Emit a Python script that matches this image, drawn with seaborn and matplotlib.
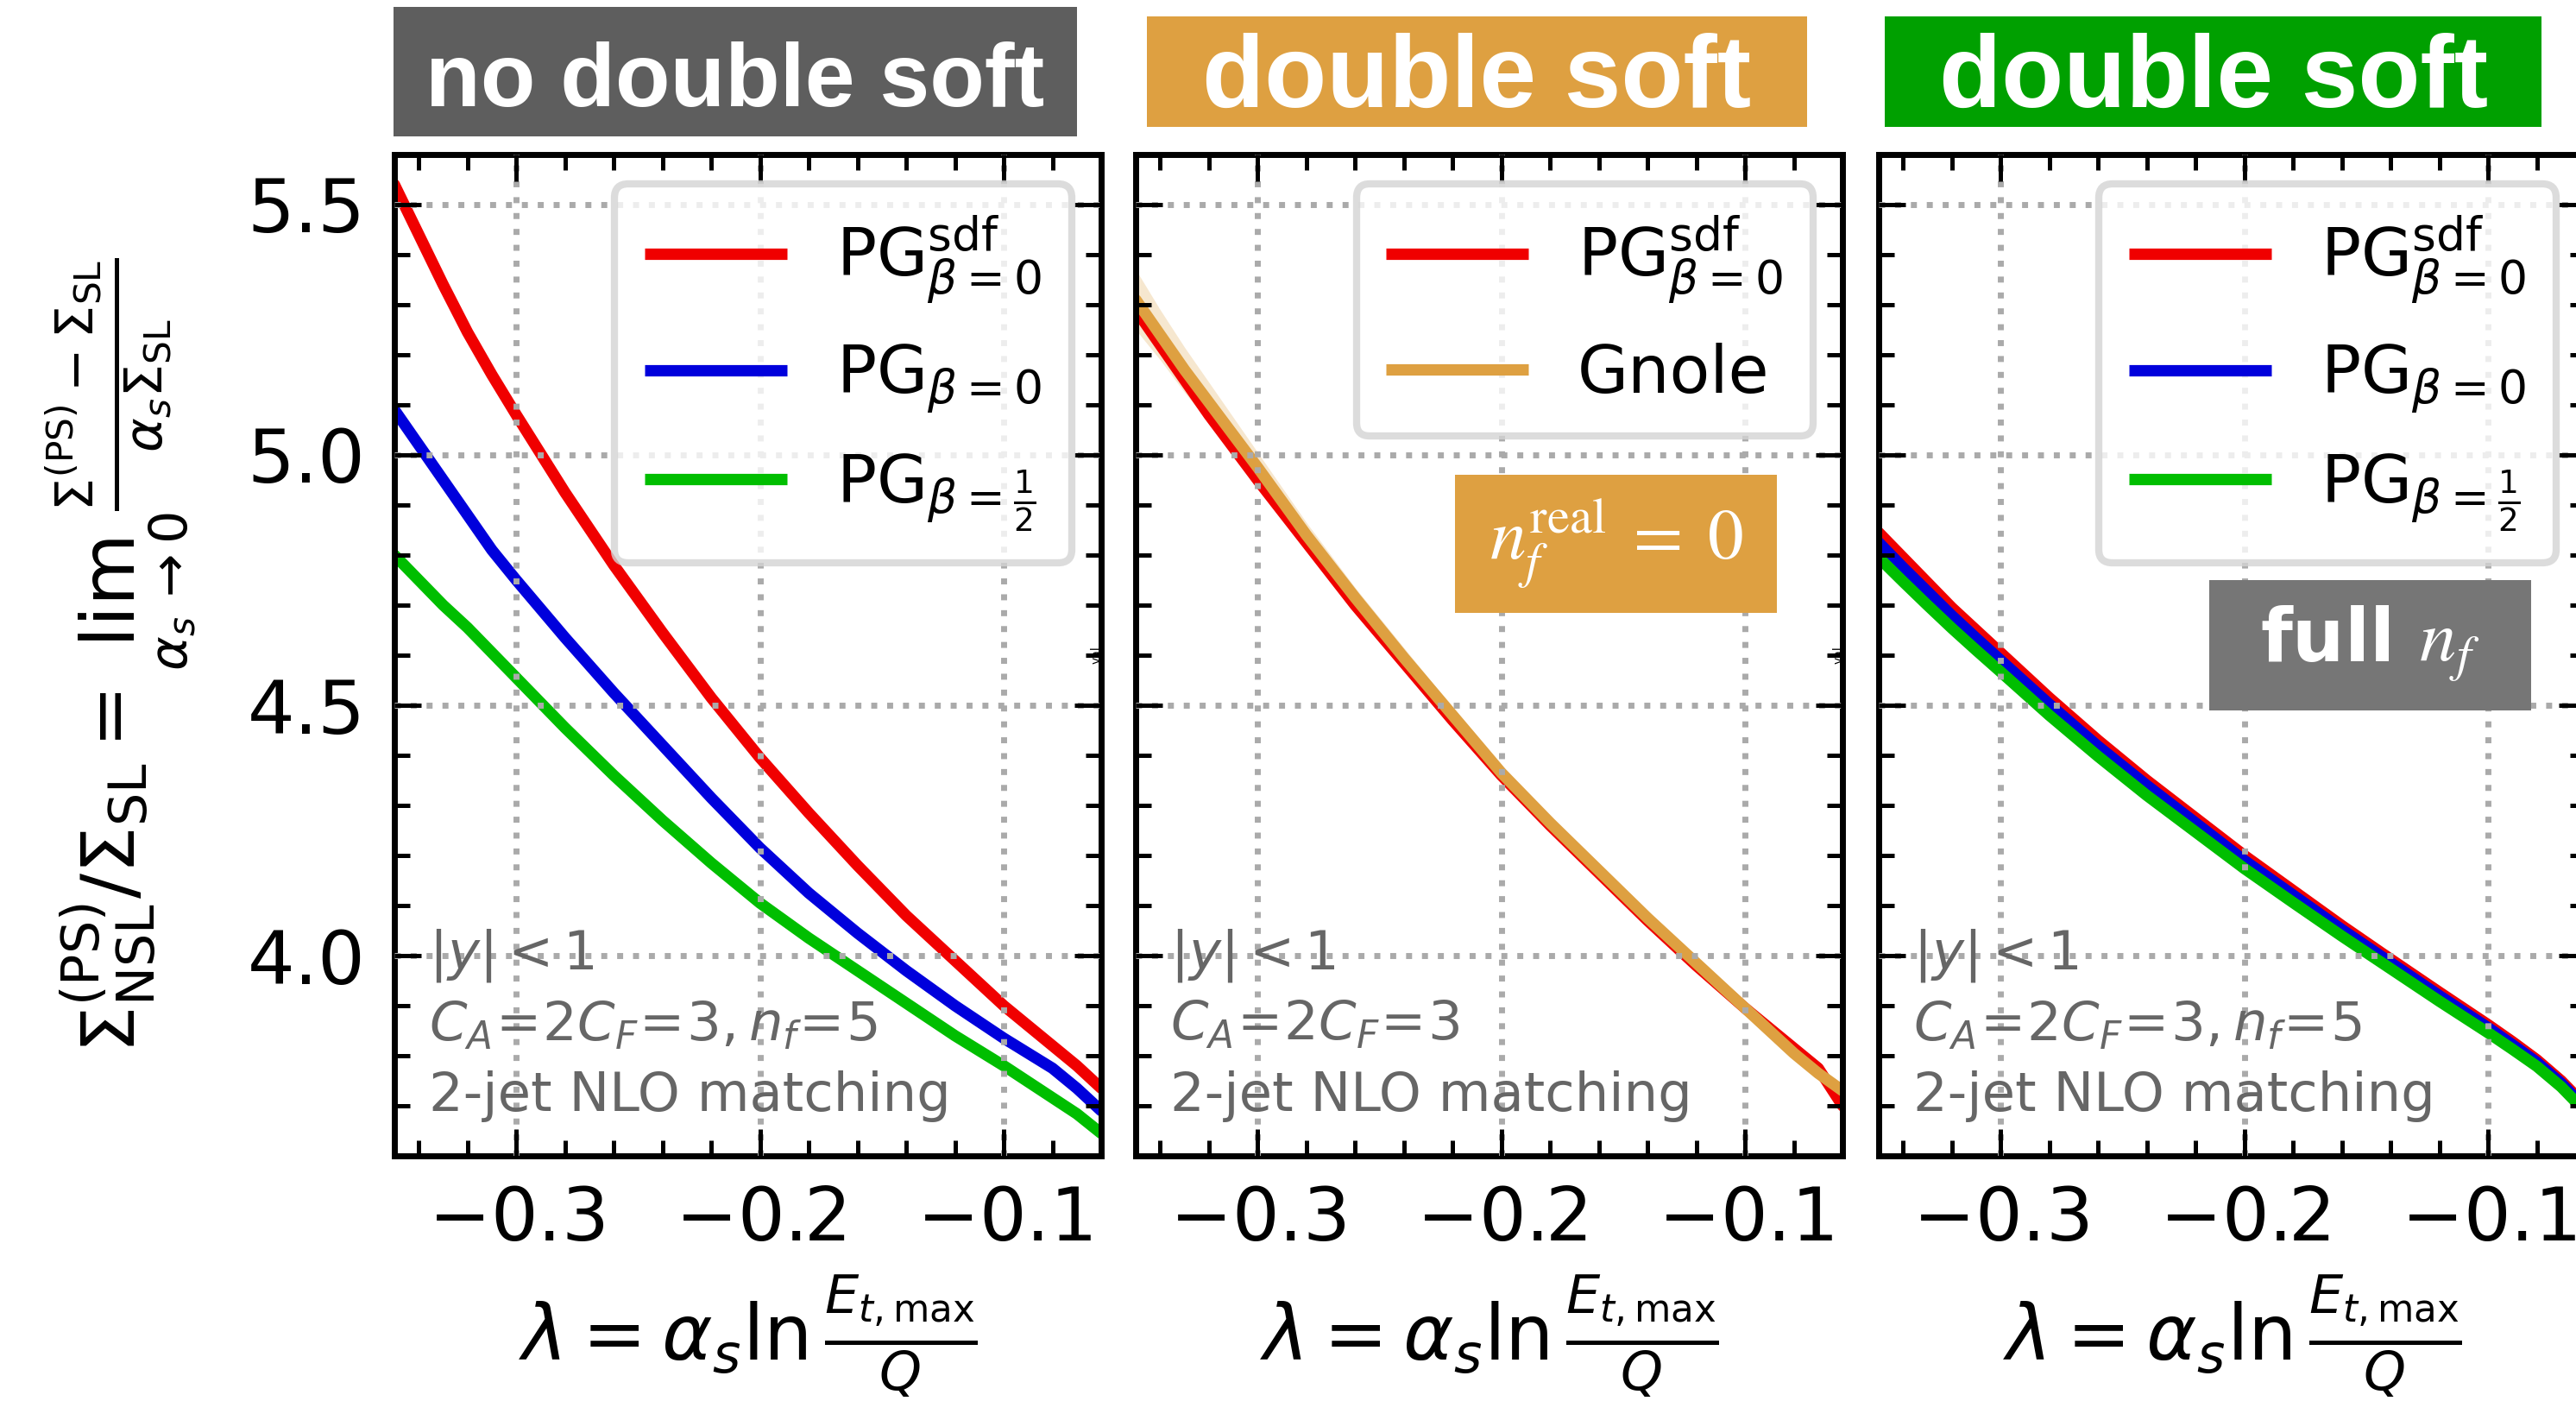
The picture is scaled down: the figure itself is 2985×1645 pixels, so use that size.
import numpy as np
import pandas as pd
import matplotlib
matplotlib.use("Agg")
import matplotlib.pyplot as plt
import seaborn as sns
from matplotlib.patches import Rectangle
from matplotlib.lines import Line2D
from matplotlib.ticker import MultipleLocator

# ---------------- data ----------------
lam = [-0.35, -0.34, -0.33, -0.32, -0.31, -0.30, -0.28, -0.26, -0.24, -0.22,
       -0.20, -0.18, -0.16, -0.14, -0.12, -0.10, -0.09, -0.08, -0.07, -0.06]

p1_sdf = [5.54, 5.44, 5.34, 5.245, 5.16, 5.08, 4.925, 4.78, 4.645, 4.515,
          4.395, 4.285, 4.18, 4.08, 3.99, 3.90, 3.86, 3.82, 3.78, 3.735]
p1_b0 = [5.09, 5.02, 4.95, 4.88, 4.81, 4.75, 4.635, 4.525, 4.42, 4.315,
         4.215, 4.125, 4.045, 3.97, 3.90, 3.835, 3.805, 3.775, 3.735, 3.69]
p1_bh = [4.80, 4.75, 4.70, 4.655, 4.605, 4.555, 4.455, 4.36, 4.27, 4.185,
         4.105, 4.035, 3.97, 3.905, 3.84, 3.78, 3.748, 3.716, 3.684, 3.645]

p2_sdf = [5.29, 5.22, 5.15, 5.08, 5.015, 4.95, 4.825, 4.70, 4.585, 4.47,
          4.36, 4.26, 4.165, 4.07, 3.98, 3.895, 3.855, 3.815, 3.775, 3.70]
p2_gnole = [5.31, 5.24, 5.17, 5.105, 5.04, 4.975, 4.84, 4.715, 4.595, 4.48,
            4.365, 4.265, 4.17, 4.075, 3.985, 3.895, 3.85, 3.805, 3.765, 3.73]
p2_gnole_err = [0.06, 0.05, 0.045, 0.04, 0.035, 0.03, 0.025, 0.02, 0.02, 0.015,
                0.015, 0.012, 0.012, 0.012, 0.01, 0.01, 0.01, 0.01, 0.01, 0.01]

p3_sdf = [4.845, 4.795, 4.745, 4.695, 4.65, 4.605, 4.515, 4.43, 4.35, 4.275,
          4.20, 4.13, 4.06, 3.993, 3.927, 3.862, 3.828, 3.792, 3.75, 3.70]
p3_b0 = [4.825, 4.775, 4.727, 4.679, 4.634, 4.59, 4.502, 4.418, 4.34, 4.265,
         4.19, 4.121, 4.052, 3.986, 3.92, 3.856, 3.822, 3.787, 3.745, 3.695]
p3_bh = [4.795, 4.747, 4.70, 4.654, 4.61, 4.567, 4.48, 4.398, 4.32, 4.247,
         4.174, 4.106, 4.039, 3.974, 3.909, 3.846, 3.813, 3.779, 3.738, 3.688]

panel_titles = ["no double soft", "double soft", "double soft"]
lab_sdf = r"$\mathrm{PG}^{\mathrm{sdf}}_{\beta=0}$"
lab_b0 = r"$\mathrm{PG}_{\beta=0}$"
lab_bh = r"$\mathrm{PG}_{\beta=\frac{1}{2}}$"
lab_gnole = "Gnole"
ann_lines_a = [r"$|y|<1$", r"$C_A\!=\!2C_F\!=\!3, n_f\!=\!5$", "2-jet NLO matching"]
ann_lines_b = [r"$|y|<1$", r"$C_A\!=\!2C_F\!=\!3$", "2-jet NLO matching"]
xticks = [-0.3, -0.2, -0.1]
yticks = [4.0, 4.5, 5.0, 5.5]

RED = "#f00000"
BLUE = "#0000dc"
GREEN = "#00be00"
ORANGE = "#dea041"
GRAYBOX = "#5e5e5e"
GREENBOX = "#00a000"
FULLBOX = "#767676"

# ---------------- style ----------------
sns.set_style("ticks")
plt.rcParams["font.family"] = ["DejaVu Sans"]
plt.rcParams["mathtext.fontset"] = "dejavusans"
plt.rcParams["text.color"] = "black"
plt.rcParams["axes.labelcolor"] = "black"
plt.rcParams["xtick.color"] = "black"
plt.rcParams["ytick.color"] = "black"
plt.rcParams["xtick.labelcolor"] = "black"
plt.rcParams["ytick.labelcolor"] = "black"
plt.rcParams["legend.labelcolor"] = "black"

fig = plt.figure(figsize=(29.85, 16.45), dpi=100)
lefts = [0.1531, 0.4409, 0.7293]
axes = [fig.add_axes([l, 0.1860, 0.2744, 0.7052]) for l in lefts]

def style_axis(ax, show_ylabels):
    ax.set_xlim(-0.35, -0.06)
    ax.set_ylim(3.6, 5.6)
    ax.set_xticks(xticks)
    ax.set_yticks(yticks)
    ax.xaxis.set_minor_locator(MultipleLocator(0.02))
    ax.yaxis.set_minor_locator(MultipleLocator(0.1))
    ax.tick_params(which="both", direction="in", top=True, right=True,
                   labelsize=62, pad=24, color="black", labelcolor="black")
    ax.tick_params(which="major", length=22, width=3.6)
    ax.tick_params(which="minor", length=13, width=3.6)
    ax.set_xticklabels([f"$-${abs(t):.1f}" for t in xticks])
    if show_ylabels:
        ax.set_yticklabels([f"{t:.1f}" for t in yticks])
    else:
        ax.set_yticklabels([])
    for s in ax.spines.values():
        s.set_linewidth(5)
        s.set_color("black")
        s.set_visible(True)
    ax.grid(True, which="major", ls=":", lw=5, color="#aaaaaa")
    ax.set_axisbelow(False)
    ax.set_xlabel(r"$\lambda = \alpha_s \ln\frac{E_{t,\max}}{Q}$", fontsize=64,
                  labelpad=14, color="black")

def add_ann(ax, lines):
    ys = [0.187, 0.1155, 0.0448]
    for t, y in zip(lines, ys):
        ax.text(0.049, y, t, transform=ax.transAxes, fontsize=45, color="#666666",
                ha="left", va="baseline", zorder=6)

LW = 9.5

# panel 1
ax = axes[0]
df1 = pd.DataFrame({"lam": lam * 3, "val": p1_sdf + p1_b0 + p1_bh,
                    "series": [lab_sdf] * len(lam) + [lab_b0] * len(lam) + [lab_bh] * len(lam)})
sns.lineplot(data=df1, x="lam", y="val", hue="series", hue_order=[lab_sdf, lab_b0, lab_bh],
             palette={lab_sdf: RED, lab_b0: BLUE, lab_bh: GREEN}, linewidth=LW,
             errorbar=None, legend=False, ax=ax, sort=True)
h1 = [Line2D([], [], color=c, lw=LW, solid_capstyle="butt") for c in (RED, BLUE, GREEN)]
l1 = [lab_sdf, lab_b0, lab_bh]

# panel 2
ax = axes[1]
lo = np.array(p2_gnole) - np.array(p2_gnole_err)
hi = np.array(p2_gnole) + np.array(p2_gnole_err)
ax.fill_between(lam, lo, hi, color=ORANGE, alpha=0.25, lw=0, zorder=1.5)
df2 = pd.DataFrame({"lam": lam * 2, "val": p2_sdf + p2_gnole,
                    "series": [lab_sdf] * len(lam) + [lab_gnole] * len(lam)})
sns.lineplot(data=df2, x="lam", y="val", hue="series", hue_order=[lab_sdf, lab_gnole],
             palette={lab_sdf: RED, lab_gnole: ORANGE}, linewidth=LW,
             errorbar=None, legend=False, ax=ax, sort=True)
h2 = [Line2D([], [], color=c, lw=LW, solid_capstyle="butt") for c in (RED, ORANGE)]
l2 = [lab_sdf, lab_gnole]

# panel 3
ax = axes[2]
df3 = pd.DataFrame({"lam": lam * 3, "val": p3_sdf + p3_b0 + p3_bh,
                    "series": [lab_sdf] * len(lam) + [lab_b0] * len(lam) + [lab_bh] * len(lam)})
sns.lineplot(data=df3, x="lam", y="val", hue="series", hue_order=[lab_sdf, lab_b0, lab_bh],
             palette={lab_sdf: RED, lab_b0: BLUE, lab_bh: GREEN}, linewidth=LW,
             errorbar=None, legend=False, ax=ax, sort=True)

for i, ax in enumerate(axes):
    style_axis(ax, i == 0)

for ax, (h, l) in zip(axes, [(h1, l1), (h2, l2), (h1, l1)]):
    leg = ax.legend(h, l, loc="upper right", fontsize=55, handlelength=2.16,
                    handletextpad=0.75, labelspacing=0.55, borderpad=0.45,
                    borderaxespad=0.45, fancybox=True, framealpha=0.8,
                    edgecolor="#d4d4d4", labelcolor="black")
    leg.get_frame().set_linewidth(6)
    leg.set_zorder(8)

add_ann(axes[0], ann_lines_a)
add_ann(axes[1], ann_lines_b)
add_ann(axes[2], ann_lines_a)

axes[0].set_ylabel(r"$\Sigma^{\mathrm{(PS)}}_{\mathrm{NSL}}/\Sigma_{\mathrm{SL}} = "
                   r"\lim_{\alpha_s\to0}\frac{\Sigma^{\mathrm{(PS)}}-\Sigma_{\mathrm{SL}}}"
                   r"{\alpha_s\Sigma_{\mathrm{SL}}}$", fontsize=62, labelpad=40, color="black")

# n_f^real box (panel 2)
ax = axes[1]
ax.add_patch(Rectangle((0.452, 0.542), 0.455, 0.138, transform=ax.transAxes,
                       facecolor=ORANGE, edgecolor="none", zorder=9, clip_on=False))
ax.text(0.680, 0.611, r"$n_f^{\mathrm{real}}\;=\;0$", transform=ax.transAxes,
        fontsize=60, color="white", ha="center", va="center", zorder=10,
        math_fontfamily="stix")

# full n_f box (panel 3)
ax = axes[2]
ax.add_patch(Rectangle((0.468, 0.445), 0.455, 0.130, transform=ax.transAxes,
                       facecolor=FULLBOX, edgecolor="none", zorder=9, clip_on=False))
ax.text(0.695, 0.512, r"full $n_f$", transform=ax.transAxes,
        fontsize=61, color="white", ha="center", va="center", zorder=10,
        fontweight="bold", math_fontfamily="stix")

# title boxes
boxes = [(0.1528, 0.9040, 0.2653, 0.0911, GRAYBOX, 75),
         (0.4452, 0.9106, 0.2563, 0.0778, ORANGE, 85),
         (0.7317, 0.9106, 0.2549, 0.0778, GREENBOX, 85)]
for (x0, y0, w, hgt, col, fs), title in zip(boxes, panel_titles):
    fig.add_artist(Rectangle((x0, y0), w, hgt, transform=fig.transFigure,
                             facecolor=col, edgecolor="none"))
    fig.text(x0 + w / 2, 0.925, title, ha="center", va="baseline", color="white",
             fontsize=fs, fontweight="bold", family=["Liberation Sans", "DejaVu Sans"])

fig.savefig("out.png", dpi=100)
